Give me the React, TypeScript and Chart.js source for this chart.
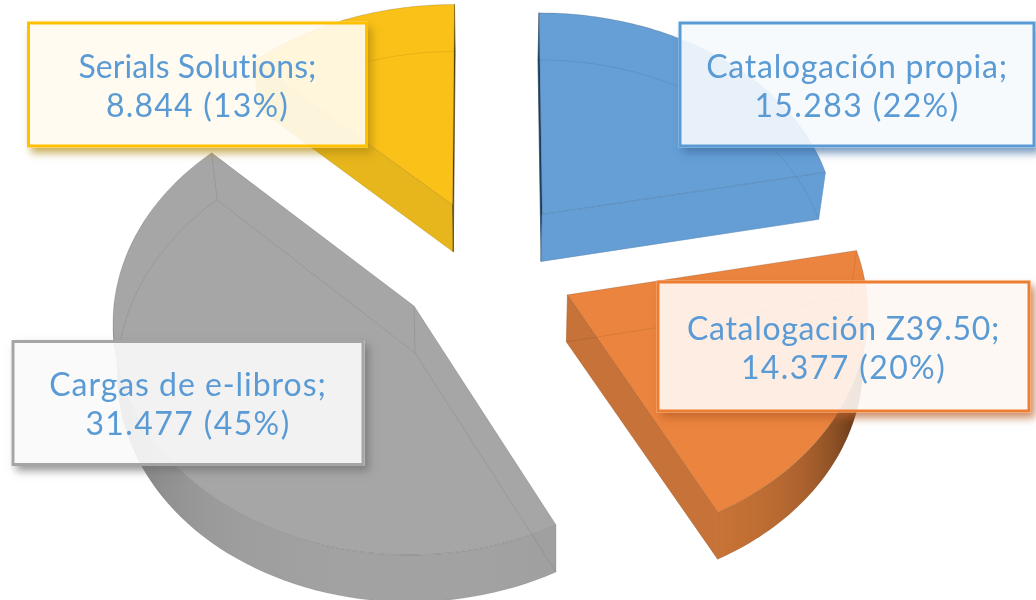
import React, { useEffect, useRef } from "react";
import { Chart, registerables } from "chart.js";

Chart.register(...registerables);

const categories = ["Catalogación propia", "Catalogación Z39.50", "Cargas de e-libros", "Serials Solutions"];
const values = [15283, 14377, 31477, 8844];
const percentLabels = [22, 20, 45, 13];
const topColors = ["#659FD6", "#EB843E", "#A6A6A6", "#FAC118"];
const borderColors = ["#5B9BD5", "#ED7D31", "#A5A5A5", "#FFC000"];
const shadowColors = ["#3F6F9F", "#B8602A", "#707070", "#B08A10"];
const sideRadial = ["#649ED5", "#C67238", "#A2A2A2", "#E7B51C"];
const sideLight = ["#649ED5", "#D07738", "#A2A2A2", "#E7B51C"];
const sideDark = ["#1F3F60", "#4A2A12", "#747474", "#5A4510"];
const labelBoxes = [
  [678.5, 21.5, 357, 126],
  [656.5, 280.5, 374, 132],
  [11.5, 340, 353, 126],
  [27, 21.5, 341, 126],
];
const nameSpacing = [0.74, 0.7, 0.95, 0.05];
const valueSpacing = [1.4, 1.4, 1.4, 1.2];

const TEXT_COLOR = "#5B9BD5";
const EXPLODE = 0.3;
const DEPTH = 47;
const BOTTOM_SHRINK = 0.02;
const VIEW = { cx: 486.5, cy: 265.5, a: 297, b: 224, kx: 0.06, ky: 0.075 };

type P = { x: number; y: number };

function project(X: number, Y: number): P {
  return {
    x: VIEW.cx + (VIEW.a * X) / (1 - VIEW.kx * Y),
    y: VIEW.cy + (VIEW.b * Y) / (1 - VIEW.ky * Y),
  };
}

function below(p: P): P {
  // the far part of the pie narrows a little as it goes down
  const far = Math.min(1, Math.max(0, (500 - p.y) / 300));
  return { x: p.x + (VIEW.cx - p.x) * BOTTOM_SHRINK * far, y: p.y + DEPTH };
}

function hexRgb(h: string) {
  const n = parseInt(h.slice(1), 16);
  return [(n >> 16) & 255, (n >> 8) & 255, n & 255];
}

function mix(a: string, b: string, t: number) {
  const A = hexRgb(a);
  const B = hexRgb(b);
  return `rgb(${A.map((v, i) => Math.round(v + (B[i] - v) * t)).join(",")})`;
}

function formatThousands(v: number) {
  return String(v).replace(/\B(?=(\d{3})+$)/g, ".");
}

function slicePolygon(start: number, end: number) {
  // Chart.js angles start at -PI/2 for twelve o'clock
  const mid = (start + end) / 2;
  const ox = Math.cos(mid) * EXPLODE;
  const oy = Math.sin(mid) * EXPLODE;
  const pts: P[] = [project(ox, oy)];
  const steps = 80;
  for (let i = 0; i <= steps; i++) {
    const t = start + ((end - start) * i) / steps;
    pts.push(project(ox + Math.cos(t), oy + Math.sin(t)));
  }
  return pts;
}

function quad(ctx: CanvasRenderingContext2D, p: P, q: P, color: string) {
  const a = below(p);
  const b = below(q);
  ctx.fillStyle = color;
  ctx.strokeStyle = color;
  ctx.lineWidth = 0.6;
  ctx.beginPath();
  ctx.moveTo(p.x, p.y);
  ctx.lineTo(q.x, q.y);
  ctx.lineTo(b.x, b.y);
  ctx.lineTo(a.x, a.y);
  ctx.closePath();
  ctx.fill();
  ctx.stroke();
}

const piePlugin = {
  id: "extrudedPie",
  beforeDatasetsDraw(chart: any) {
    const ctx: CanvasRenderingContext2D = chart.ctx;
    const arcs = chart.getDatasetMeta(0).data;
    ctx.save();
    arcs.forEach((arc: any, i: number) => {
      const { startAngle, endAngle } = arc.getProps(["startAngle", "endAngle"], true);
      const pts = slicePolygon(startAngle, endAngle);
      const n = pts.length;
      // radial side faces
      [0, n - 1].forEach((j) => {
        const p = pts[j];
        const q = pts[(j + 1) % n];
        const dx = q.x - p.x;
        if (dx >= 0) return;
        const nrm = -dx / (Math.hypot(dx, q.y - p.y) || 1);
        quad(ctx, p, q, nrm > 0.3 ? sideRadial[i] : sideDark[i]);
      });
      // curved side face: one visible run with a gradient following its turn
      const run: P[] = [];
      const shades: number[] = [];
      for (let j = 1; j < n - 1; j++) {
        const p = pts[j];
        const q = pts[j + 1];
        const dx = q.x - p.x;
        if (dx >= 0) continue;
        if (!run.length) run.push(p);
        run.push(q);
        const nrm = -dx / (Math.hypot(dx, q.y - p.y) || 1);
        shades.push(Math.min(1, Math.pow(1 - nrm, 1.3) * 1.5));
      }
      if (run.length > 1) {
        const x0 = run[0].x;
        const x1 = run[run.length - 1].x;
        const grad = ctx.createLinearGradient(x0, 0, x1, 0);
        shades.forEach((s, k) => {
          const stop = Math.min(1, Math.max(0, (run[k].x - x0) / (x1 - x0)));
          grad.addColorStop(stop, mix(sideLight[i], sideDark[i], s));
        });
        ctx.fillStyle = grad;
        ctx.beginPath();
        run.forEach((p, k) => (k ? ctx.lineTo(p.x, p.y) : ctx.moveTo(p.x, p.y)));
        [...run].reverse().forEach((p) => {
          const b = below(p);
          ctx.lineTo(b.x, b.y);
        });
        ctx.closePath();
        ctx.fill();
      }
      // top face
      ctx.fillStyle = topColors[i];
      ctx.beginPath();
      pts.forEach((p, j) => (j ? ctx.lineTo(p.x, p.y) : ctx.moveTo(p.x, p.y)));
      ctx.closePath();
      ctx.fill();
      // outline of the top face
      ctx.strokeStyle = "rgba(0,0,0,0.14)";
      ctx.lineWidth = 1;
      ctx.stroke();
      // see-through bottom outline and corner edges
      ctx.strokeStyle = "rgba(0,0,0,0.08)";
      ctx.beginPath();
      pts.forEach((p, j) => {
        const b = below(p);
        j ? ctx.lineTo(b.x, b.y) : ctx.moveTo(b.x, b.y);
      });
      ctx.closePath();
      [pts[0], pts[1], pts[n - 1]].forEach((p) => {
        const b = below(p);
        ctx.moveTo(p.x, p.y);
        ctx.lineTo(b.x, b.y);
      });
      ctx.stroke();
    });
    ctx.restore();
    return false;
  },
  afterDraw(chart: any) {
    const ctx: CanvasRenderingContext2D = chart.ctx;
    labelBoxes.forEach(([x, y, w, h], i) => {
      const color = borderColors[i];
      const [r, g, b] = hexRgb(shadowColors[i]);
      // shadow only outside the box
      ctx.save();
      ctx.beginPath();
      ctx.rect(0, 0, chart.width, chart.height);
      ctx.rect(x, y, w, h);
      ctx.clip("evenodd");
      ctx.shadowColor = `rgba(${r},${g},${b},0.7)`;
      ctx.shadowBlur = 8;
      ctx.shadowOffsetX = 4 + 2000;
      ctx.shadowOffsetY = 5;
      ctx.fillStyle = "#000";
      ctx.fillRect(x - 2000, y, w, h);
      ctx.restore();
      ctx.save();
      ctx.fillStyle = mix(color, "#FFFFFF", 0.94).replace("rgb", "rgba").replace(")", ",0.91)");
      ctx.fillRect(x, y, w, h);
      ctx.strokeStyle = color;
      ctx.lineWidth = 3;
      ctx.strokeRect(x + 1.5, y + 1.5, w - 3, h - 3);
      ctx.fillStyle = TEXT_COLOR;
      ctx.font = "32px Lato, sans-serif";
      ctx.textAlign = "center";
      ctx.textBaseline = "alphabetic";
      const cx = x + w / 2;
      const cy = y + h / 2;
      (ctx as any).letterSpacing = `${nameSpacing[i]}px`;
      ctx.fillText(`${categories[i]};`, cx, cy - 7);
      (ctx as any).letterSpacing = `${valueSpacing[i]}px`;
      ctx.fillText(`${formatThousands(values[i])} (${percentLabels[i]}%)`, cx, cy + 32);
      ctx.restore();
    });
  },
};

export default function App() {
  const ref = useRef<HTMLCanvasElement>(null);
  useEffect(() => {
    document.body.style.margin = "0";
    const chart = new Chart(ref.current!, {
      type: "pie",
      data: {
        labels: categories,
        datasets: [{ data: values, backgroundColor: topColors, borderWidth: 0 }],
      },
      options: {
        responsive: false,
        animation: false,
        plugins: { legend: { display: false }, tooltip: { enabled: false } },
      },
      plugins: [piePlugin],
    } as any);
    return () => chart.destroy();
  }, []);
  return <canvas ref={ref} width={1036} height={600} style={{ display: "block" }} />;
}
